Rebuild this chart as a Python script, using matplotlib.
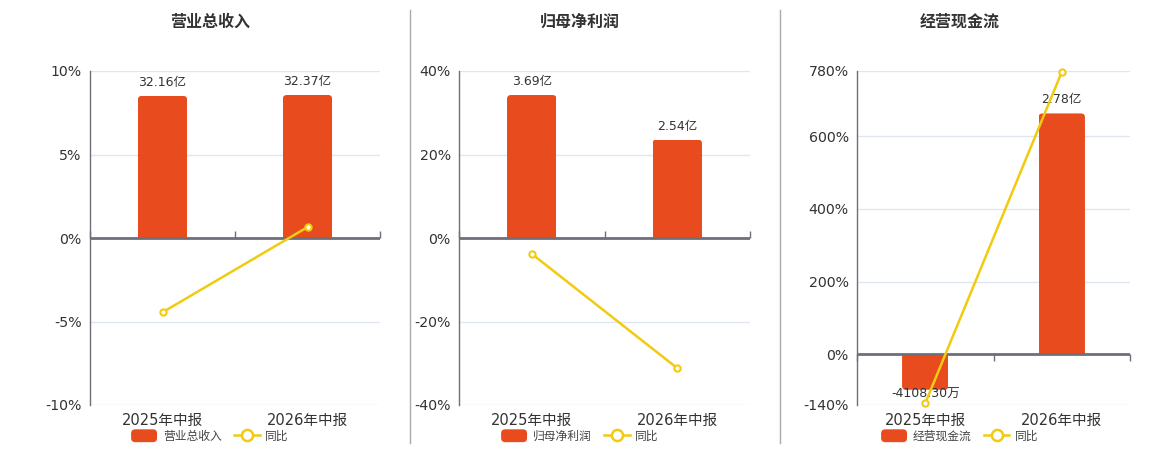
import matplotlib
matplotlib.use("Agg")
import matplotlib.pyplot as plt
import matplotlib.patches as mpatches
from matplotlib.lines import Line2D
from matplotlib.patches import FancyBboxPatch, Rectangle
from matplotlib.legend_handler import HandlerPatch

plt.rcParams['font.family'] = ['DejaVu Sans', 'Noto Sans CJK SC']

# ---------------- data ----------------
categories = ["2025年中报", "2026年中报"]

titles = ["营业总收入", "归母净利润", "经营现金流"]

revenue_vals = [32.16, 32.37]            # 亿
revenue_labels = ["32.16亿", "32.37亿"]
revenue_yoy = [-4.45, 0.65]              # %

profit_vals = [3.69, 2.54]               # 亿
profit_labels = ["3.69亿", "2.54亿"]
profit_yoy = [-3.8, -31.17]              # %

cash_vals = [-0.41083, 2.78]             # 亿
cash_labels = ["-4108.30万", "2.78亿"]
cash_yoy = [-135.0, 777.0]               # %

pct_ticks = [
    [-10, -5, 0, 5, 10],
    [-40, -20, 0, 20, 40],
    [-140, 0, 200, 400, 600, 780],
]
bar_upper = [37.8, 4.31, 3.27]

# ---------------- style ----------------
BAR_C = "#E84C1E"
LINE_C = "#F2CA0F"
TXT_C = "#333333"
AX_C = "#6E7079"
GRID_C = "#E0E6F1"


def hide_y(a):
    for s in a.spines.values():
        s.set_visible(False)
    a.yaxis.set_visible(False)
    a.patch.set_visible(False)


def rounded_handle(legend, orig_handle, xdescent, ydescent, width, height, fontsize):
    return FancyBboxPatch((-xdescent, -ydescent), width, height,
                          boxstyle="round,pad=0,rounding_size=3")


W, H = 1160, 450
fig = plt.figure(figsize=(W / 100, H / 100), dpi=100)

panels = [
    dict(left=90, right=380, title_x=210, vals=revenue_vals, labels=revenue_labels, yoy=revenue_yoy),
    dict(left=459, right=750, title_x=580, vals=profit_vals, labels=profit_labels, yoy=profit_yoy),
    dict(left=857, right=1130, title_x=960, vals=cash_vals, labels=cash_labels, yoy=cash_yoy),
]
top_px, bot_px = 71, 405

for i, p in enumerate(panels):
    ax = fig.add_axes([p['left'] / W, 1 - bot_px / H, (p['right'] - p['left']) / W, (bot_px - top_px) / H])
    ax.set_zorder(0)
    ticks = pct_ticks[i]
    ylo, yhi = ticks[0], ticks[-1]
    ax.set_ylim(ylo, yhi)
    ax.set_xlim(-0.5, 1.5)
    ax.set_yticks(ticks)
    ax.set_yticklabels([f"{t}%" for t in ticks])
    ax.grid(axis='y', color=GRID_C, linewidth=1)
    ax.set_axisbelow(True)
    for s in ['top', 'right', 'bottom']:
        ax.spines[s].set_visible(False)
    ax.spines['left'].set_color(AX_C)
    ax.spines['left'].set_linewidth(1)
    ax.tick_params(axis='y', length=0, pad=6, labelsize=10.2, labelcolor=TXT_C)
    ax.set_xticks(range(len(categories)))
    ax.set_xticklabels(categories)
    ax.tick_params(axis='x', length=0, pad=6, labelsize=10.5, labelcolor=TXT_C)

    # bar axis (hidden), zero aligned
    ax2 = ax.twinx()
    ax2.set_zorder(1)
    bu = bar_upper[i]
    bl = bu * ylo / yhi
    ax2.set_ylim(bl, bu)
    hide_y(ax2)

    bars = ax2.bar(range(len(categories)), p['vals'], width=0.34, color=BAR_C, zorder=2)
    ax_w_px = p['right'] - p['left']
    ax_h_px = bot_px - top_px
    xu_per_px = 2.0 / ax_w_px
    yu_per_px = (bu - bl) / ax_h_px
    r_px = 4
    for b in bars:
        x, w, h = b.get_x(), b.get_width(), b.get_height()
        b.set_visible(False)
        ext = r_px * yu_per_px * 2
        if h >= 0:
            y0, hh = -ext, h + ext
            clip = Rectangle((x, 0), w, h, transform=ax2.transData)
        else:
            y0, hh = h, -h + ext
            clip = Rectangle((x, h), w, -h, transform=ax2.transData)
        fb = FancyBboxPatch((x, y0), w, hh,
                            boxstyle=f"round,pad=0,rounding_size={r_px * xu_per_px}",
                            mutation_aspect=yu_per_px / xu_per_px,
                            facecolor=BAR_C, edgecolor='none', zorder=2)
        ax2.add_patch(fb)
        fb.set_clip_path(clip)

    for xi, (v, lab) in enumerate(zip(p['vals'], p['labels'])):
        if v >= 0:
            ax2.annotate(lab, (xi, v), xytext=(0, 5), textcoords='offset points',
                         ha='center', va='bottom', fontsize=9, color=TXT_C, zorder=5)
        else:
            ax2.annotate(lab, (xi, v), xytext=(0, 1.5), textcoords='offset points',
                         ha='center', va='top', fontsize=9, color=TXT_C, zorder=5)

    # top axis: zero line and yoy line, in percent coords
    ax3 = ax.twinx()
    ax3.set_zorder(2)
    ax3.set_ylim(ylo, yhi)
    hide_y(ax3)

    ax3.axhline(0, color=AX_C, linewidth=2, zorder=3)
    zfrac = (0 - ylo) / (yhi - ylo)
    sec = ax3.secondary_xaxis(zfrac)
    sec.set_xticks([-0.5, 0.5, 1.5])
    sec.set_xticklabels([])
    sec.tick_params(length=5, width=1, color=AX_C, direction='out')
    for s in sec.spines.values():
        s.set_visible(False)

    ax3.plot(range(len(categories)), p['yoy'], color=LINE_C, linewidth=1.8,
             marker='o', markersize=4.5, markerfacecolor='white',
             markeredgecolor=LINE_C, markeredgewidth=1.5, clip_on=False, zorder=4)

    # title
    fig.text(p['title_x'] / W, 1 - 22 / H, titles[i], ha='center', va='center',
             fontsize=11.5, fontweight='bold', color=TXT_C,
             family=['Noto Sans CJK SC', 'DejaVu Sans'])

    # legend
    bar_handle = mpatches.Patch(facecolor=BAR_C, edgecolor='none', label=titles[i])
    handles = [
        bar_handle,
        Line2D([0], [0], color=LINE_C, linewidth=1.8, marker='o', markersize=8,
               markerfacecolor='white', markeredgecolor=LINE_C, markeredgewidth=1.8,
               label="同比"),
    ]
    fig.legend(handles=handles, loc='center', bbox_to_anchor=(p['title_x'] / W, 1 - 436 / H),
               ncol=2, frameon=False, handlelength=2.2, handleheight=1.3,
               handletextpad=0.5, columnspacing=1.0, labelcolor='#444444',
               handler_map={bar_handle: HandlerPatch(patch_func=rounded_handle)},
               prop={'family': ['Noto Sans CJK SC', 'DejaVu Sans'], 'size': 8.5})

# divider lines
for xd in [410, 780]:
    fig.add_artist(Line2D([xd / W, xd / W], [1 - 443 / H, 1 - 10 / H],
                          transform=fig.transFigure, color='#AAAAAA', linewidth=1))

fig.savefig("out.png", dpi=100)
